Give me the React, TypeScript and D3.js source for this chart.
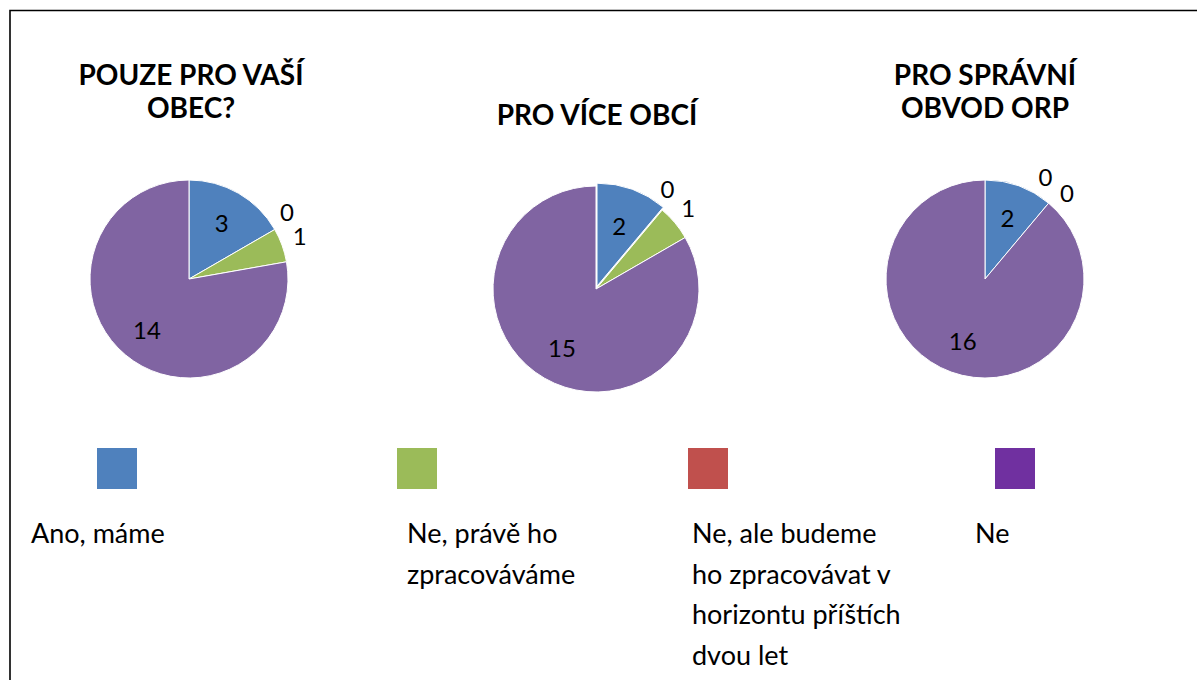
import React, { useEffect, useRef } from "react";
import * as d3 from "d3";

// categories (legend order)
const categories = [
  "Ano, máme",
  "Ne, právě ho zpracováváme",
  "Ne, ale budeme ho zpracovávat v horizontu příštích dvou let",
  "Ne",
];
const legendLines = [
  ["Ano, máme"],
  ["Ne, právě ho", "zpracováváme"],
  ["Ne, ale budeme", "ho zpracovávat v", "horizontu příštích", "dvou let"],
  ["Ne"],
];
const pieColors = ["#4F81BD", "#9BBB59", "#C0504D", "#8064A2"];
const legendColors = ["#4F81BD", "#9BBB59", "#C0504D", "#7030A0"];

// order in which slices run clockwise from 12 o'clock
const sliceOrder = [0, 2, 1, 3];

const titles = [
  ["POUZE PRO VAŠÍ", "OBEC?"],
  ["PRO VÍCE OBCÍ"],
  ["PRO SPRÁVNÍ", "OBVOD ORP"],
];
const valuesObec = [3, 1, 0, 14];
const valuesVice = [2, 1, 0, 15];
const valuesOrp = [2, 0, 0, 16];
const allValues = [valuesObec, valuesVice, valuesOrp];

const W = 1197;
const H = 680;
const FONT = "Lato, 'Open Sans', sans-serif";

const App = () => {
  const svgRef = useRef<SVGSVGElement>(null);

  useEffect(() => {
    const svg = d3.select(svgRef.current);
    svg.selectAll("*").remove();
    svg.attr("width", W).attr("height", H);

    svg.append("rect").attr("width", W).attr("height", H).attr("fill", "#fff");

    // frame (top and left edges)
    svg.append("path")
      .attr("d", `M10,${H} L10,10.5 L${W},10.5`)
      .attr("fill", "none")
      .attr("stroke", "#000")
      .attr("stroke-width", 1.6);

    const panels = [
      { cx: 189, cy: 279, r: 99, titleX: 191, titleY: [85, 118], explode: 0 },
      { cx: 596, cy: 289, r: 103, titleX: 597, titleY: [125], explode: 3 },
      { cx: 985, cy: 279, r: 99, titleX: 985, titleY: [85, 118], explode: 0 },
    ];

    panels.forEach((p, pi) => {
      const vals = allValues[pi];
      const total = d3.sum(vals);
      const arcs = d3.pie<number>()
        .sort(null)
        .value(i => vals[i])(sliceOrder);

      const g = svg.append("g").attr("transform", `translate(${p.cx},${p.cy})`);
      const arc = d3.arc<d3.PieArcDatum<number>>().innerRadius(0).outerRadius(p.r);

      g.selectAll("path.slice")
        .data(arcs.filter(a => vals[a.data] > 0))
        .enter()
        .append("path")
        .attr("class", "slice")
        .attr("d", arc)
        .attr("transform", a => {
          if (a.data !== 0 || !p.explode) return null;
          const m = (a.startAngle + a.endAngle) / 2;
          return `translate(${Math.sin(m) * p.explode},${-Math.cos(m) * p.explode})`;
        })
        .attr("fill", a => pieColors[a.data])
        .attr("stroke", "#fff")
        .attr("stroke-width", 1);

      // inside labels
      const inner = arcs.filter(a => vals[a.data] / total >= 0.1);
      g.selectAll("text.in")
        .data(inner)
        .enter()
        .append("text")
        .attr("class", "in")
        .attr("x", a => Math.sin((a.startAngle + a.endAngle) / 2) * p.r * 0.66)
        .attr("y", a => -Math.cos((a.startAngle + a.endAngle) / 2) * p.r * 0.66)
        .attr("text-anchor", "middle")
        .attr("dominant-baseline", "central")
        .attr("font-family", FONT)
        .attr("font-size", 24)
        .attr("fill", "#000")
        .text(a => vals[a.data]);

      // outside labels for small slices, spread apart
      const outer = arcs
        .filter(a => vals[a.data] / total < 0.1)
        .map(a => ({ v: vals[a.data], ang: (a.startAngle + a.endAngle) / 2 }));
      const sep = (13 * Math.PI) / 180;
      for (let i = 1; i < outer.length; i++) {
        if (outer[i].ang - outer[i - 1].ang < sep) {
          const mid = (outer[i].ang + outer[i - 1].ang) / 2;
          outer[i - 1].ang = mid - sep / 2;
          outer[i].ang = mid + sep / 2;
        }
      }
      const shift = (3 * Math.PI) / 180;
      g.selectAll("text.out")
        .data(outer)
        .enter()
        .append("text")
        .attr("class", "out")
        .attr("x", o => Math.sin(o.ang - shift) * (p.r + 20))
        .attr("y", o => -Math.cos(o.ang - shift) * (p.r + 20))
        .attr("text-anchor", "middle")
        .attr("dominant-baseline", "central")
        .attr("font-family", FONT)
        .attr("font-size", 24)
        .attr("fill", "#000")
        .text(o => o.v);

      // title
      svg.append("g")
        .selectAll("text")
        .data(titles[pi])
        .enter()
        .append("text")
        .attr("x", p.titleX)
        .attr("y", (d, i) => p.titleY[i])
        .attr("text-anchor", "middle")
        .attr("font-family", FONT)
        .attr("font-weight", "bold")
        .attr("font-size", 28)
        .attr("fill", "#000")
        .text(d => d);
    });

    // legend
    const squareX = [97, 397, 688, 995];
    const textX = [31, 407, 692, 975];
    const legend = svg.append("g");
    categories.forEach((c, i) => {
      legend.append("rect")
        .attr("x", squareX[i])
        .attr("y", 448)
        .attr("width", 40)
        .attr("height", 41)
        .attr("fill", legendColors[i]);
      legend.append("g")
        .selectAll("text")
        .data(legendLines[i])
        .enter()
        .append("text")
        .attr("x", textX[i])
        .attr("y", (d, j) => 543 + j * 40.7)
        .attr("font-family", FONT)
        .attr("font-size", 27)
        .attr("fill", "#000")
        .text(d => d);
    });
  }, []);

  return (
    <div style={{ position: "absolute", left: 0, top: 0 }}>
      <svg ref={svgRef}></svg>
    </div>
  );
};

export default App;
